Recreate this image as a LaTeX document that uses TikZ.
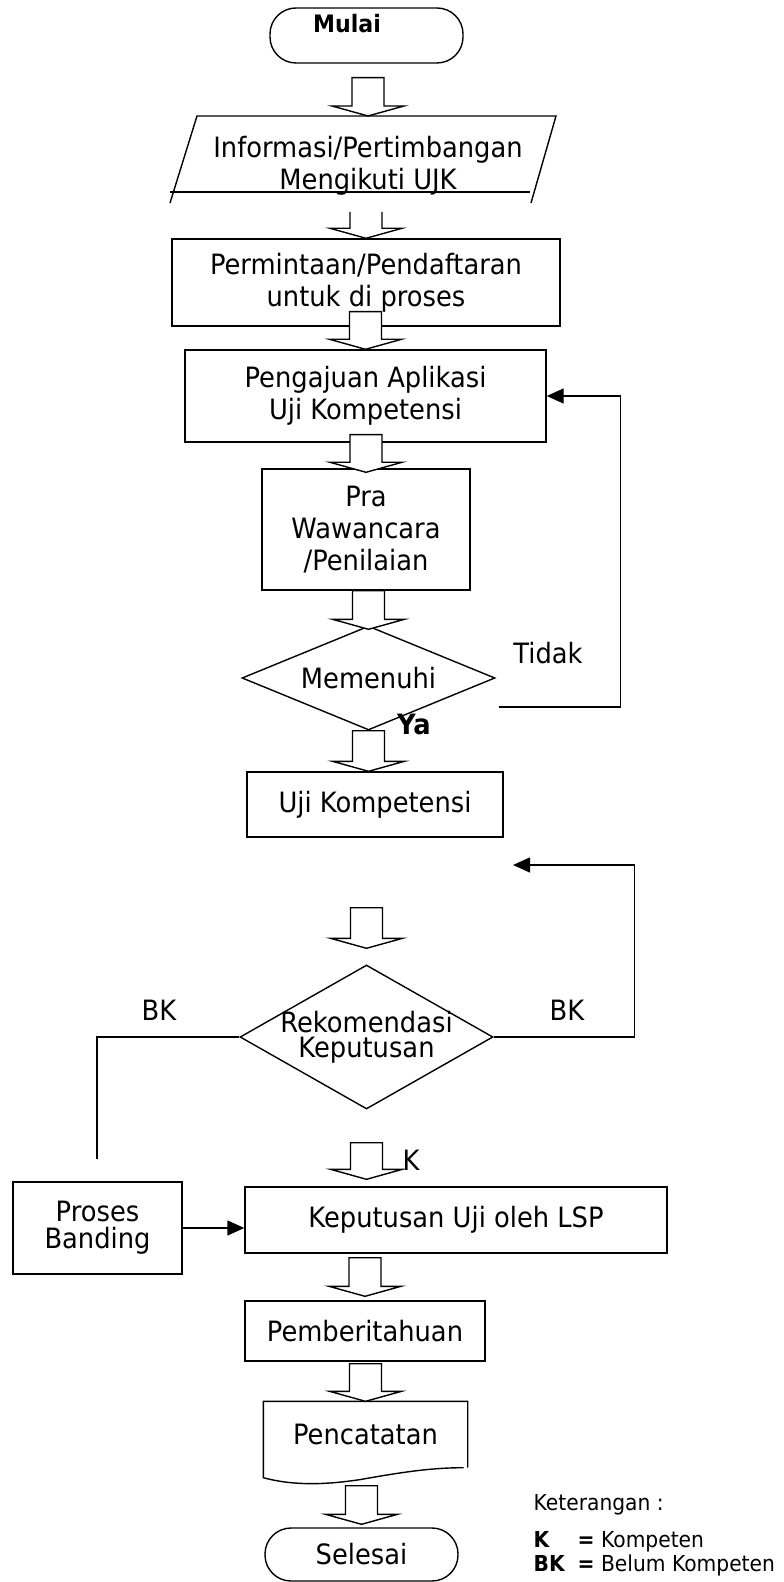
\documentclass[tikz,border=0pt]{standalone}
\usepackage{fontspec}
\setmainfont{DejaVu Sans}[FakeStretch=0.92]
\usetikzlibrary{arrows.meta,positioning,shapes.geometric,calc}

% hollow block arrow: x from the tip, top at #2, tip at #3
\newcommand{\fatarrow}[3][-- cycle]{%
  \draw[fill=white] let \p1=(#2), \p2=(#3) in
    (\x2+8pt,\y1) -- (\x2+8pt,\y2+5pt) -- (\x2+18pt,\y2+5pt) -- (\x2,\y2)
    -- (\x2-18pt,\y2+5pt) -- (\x2-8pt,\y2+5pt) -- (\x2-8pt,\y1) #1;}

\begin{document}
\begin{tikzpicture}[x=0.5pt,y=-0.5pt,line width=0.7pt,
  txt/.style={font=\fontsize{14}{16}\selectfont,align=center,inner sep=0pt},
  box/.style={txt,draw,fill=white},
  decision/.style={txt,draw,diamond,fill=white},
  terminal/.style={draw,rounded corners=13pt,inner sep=0pt},
  loop/.style={-{Triangle[length=8.5pt,width=7.5pt]}},
  legend/.style={font=\fontsize{11}{13}\selectfont,anchor=west,inner sep=0pt}]
\useasboundingbox (0,0) rectangle (783,1582);

% main column
\node[terminal,minimum width=96.5pt,minimum height=27.5pt,
  label={[font=\bfseries\fontsize{12}{14}\selectfont,xshift=-9.75pt,yshift=5.75pt]center:Mulai}] (mulai) at (366.5,35.5) {};
\node[txt] (info) at (368,166) {Informasi/Pertimbangan\\Mengikuti UJK};
\coordinate (infotop) at (368,116);
\coordinate (infobot) at (368,203);
\draw (170,203) -- (197,116) -- (556,116) -- (531,203);
\draw (170,192) -- (530,192);
\node[box,minimum width=194pt,minimum height=43.5pt] (daftar) at (366,282.5) {Permintaan/Pendaftaran\\untuk di proses};
\node[box,minimum width=180.5pt,minimum height=46pt] (aplikasi) at (365.5,396) {Pengajuan Aplikasi\\Uji Kompetensi};
\node[box,minimum width=104pt,minimum height=60.5pt] (pra) at (366,529.5) {Pra\\Wawancara\\/Penilaian};
\node[decision,shape aspect=2.43,minimum width=126.5pt,minimum height=52pt] (memenuhi) at (368.5,678) {Memenuhi};
\node[box,minimum width=128pt,minimum height=32.5pt] (uji) at (375,804.5) {Uji Kompetensi};
\node[decision,shape aspect=1.76,inner sep=-3pt,minimum width=126.5pt,minimum height=72pt,font=\fontsize{14}{12.5}\selectfont] (rekom) at (366.5,1037) {Rekomendasi\\Keputusan};
\node[box,minimum width=84.5pt,minimum height=46pt,font=\fontsize{14}{13.5}\selectfont] (banding) at (97.5,1228) {Proses\\Banding};
\node[box,minimum width=211pt,minimum height=33pt] (lsp) at (456,1220) {Keputusan Uji oleh LSP};
\node[box,minimum width=120pt,minimum height=30pt] (beritahu) at (365,1331) {Pemberitahuan};
\node[txt,minimum width=101.5pt,minimum height=32.5pt] (catat) at (365.5,1434.5) {Pencatatan};
\draw (catat.south east) -- (catat.north east) -- (catat.north west) -- ($(catat.south west)+(0,10)$)
  .. controls ($(catat.south west)+(26,17)$) and ($(catat.south west)+(56,18)$) .. ($(catat.south west)+(96,12)$)
  .. controls ($(catat.south west)+(136,5)$) and ($(catat.south west)+(166,0)$) .. ($(catat.south east)+(-4,0)$);
\node[terminal,txt,minimum width=96.5pt,minimum height=26.5pt] (selesai) at (361.5,1554.5) {Selesai};

% block arrows
\fatarrow{[yshift=-7pt]mulai.south}{infotop}
\fatarrow[]{[yshift=-4.5pt]infobot}{daftar.north}
\fatarrow{[yshift=7.5pt]daftar.south}{aplikasi.north}
\fatarrow{[yshift=4pt]aplikasi.south}{[yshift=-2pt]pra.north}
\fatarrow{pra.south}{[yshift=-2pt]memenuhi.north}
\fatarrow{memenuhi.south}{uji.north -| memenuhi.south}
\fatarrow{[yshift=-35pt]uji.south}{[yshift=8pt]rekom.north}
\fatarrow{[yshift=-16.5pt]rekom.south}{$(lsp.north -| rekom.south)+(0,-7)$}
\fatarrow{[yshift=-2pt]lsp.south}{[yshift=2pt]beritahu.north}
\fatarrow{[yshift=-1pt]beritahu.south}{catat.north}
\fatarrow{[yshift=-9pt]catat.south}{[yshift=1.5pt]selesai.north}

% branches
\draw[loop] ($(memenuhi.east)+(3,29)$) -- ++(122,0) |- (aplikasi.east);
\node[txt] (tidak) at (548,653) {Tidak};
\node[txt,font=\bfseries\fontsize{14}{16}\selectfont] (ya) at (414,724) {Ya};
\coordinate (bkend) at (513,865);
\draw[loop] (rekom.east) -- ++(141,0) |- (bkend);
\coordinate (bkleft) at (97,1159);
\draw (rekom.west) -| (bkleft);
\node[txt] (bkkiri) at (159,1010) {BK};
\node[txt] (bkkanan) at (567,1010) {BK};
\node[txt] (kom) at (411,1160) {K};
\draw[loop] (banding.east) -- (banding.east -| lsp.west);

% legend
\node[legend] (ket) at (533,1505) {Keterangan :};
\node[legend] (legk) at (533,1542) {\makebox[22pt][l]{\textbf{K}}\textbf{=} Kompeten};
\node[legend] (legbk) at (533,1565) {\makebox[22pt][l]{\textbf{BK}}\textbf{=} Belum Kompeten};
\end{tikzpicture}
\end{document}
